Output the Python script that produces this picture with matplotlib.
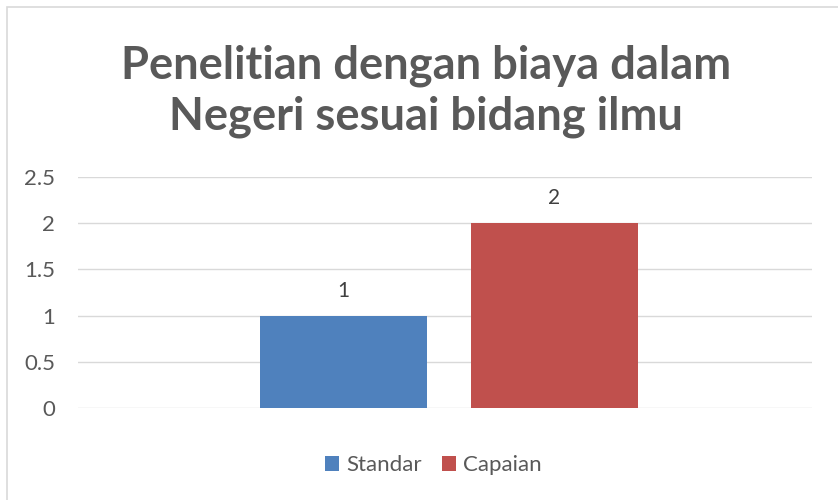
import matplotlib
matplotlib.use("Agg")
import matplotlib.pyplot as plt
from matplotlib.patches import Rectangle

series = ["Standar", "Capaian"]
values = [1, 2]
colors = ["#4F81BD", "#C0504D"]
yticks = [0, 0.5, 1, 1.5, 2, 2.5]
ytick_labels = ["0", "0.5", "1", "1.5", "2", "2.5"]
title = "Penelitian dengan biaya dalam\nNegeri sesuai bidang ilmu"

plt.rcParams['font.family'] = ['Lato', 'DejaVu Sans']

fig = plt.figure(figsize=(8.38, 5.0), dpi=100)
fig.patch.set_facecolor("white")
# chart area border
fig.add_artist(Rectangle((7/838, -0.01), 1.0, 1 - 7/500 + 0.01, transform=fig.transFigure,
                         fill=False, edgecolor="#D9D9D9", linewidth=1.2))

ax = fig.add_axes([78/838, 1 - 408/500, (812 - 78)/838, (408 - 177)/500])
offsets = [-0.276, 0.298]
width = 0.455
for s, v, c, o in zip(series, values, colors, offsets):
    ax.bar(o, v, width=width, color=c, label=s, zorder=3)
    ax.text(o, v + 0.27, str(v), ha="center", va="center", fontsize=15, color="#404040")

ax.set_xlim(-1, 1)
ax.set_ylim(0, 2.5)
ax.set_yticks(yticks)
ax.set_yticklabels(ytick_labels)
ax.set_xticks([])
ax.grid(axis="y", color="#D9D9D9", linewidth=1, zorder=0)
for sp in ax.spines.values():
    sp.set_visible(False)
ax.tick_params(axis="y", length=0, pad=16.5, labelsize=16, labelcolor="#595959")

fig.text(426/838, 1 - 91/500, title, ha="center", va="center", fontsize=32.7,
         fontweight="bold", color="#595959", linespacing=1.24)

ax.legend(loc="center", bbox_to_anchor=(433/838, 1 - 465/500), bbox_transform=fig.transFigure,
          ncol=2, frameon=False, fontsize=16, labelcolor="#595959",
          handlelength=0.65, handleheight=0.65, handletextpad=0.3, columnspacing=0.9)

fig.savefig("out.png", dpi=100, facecolor="white")
